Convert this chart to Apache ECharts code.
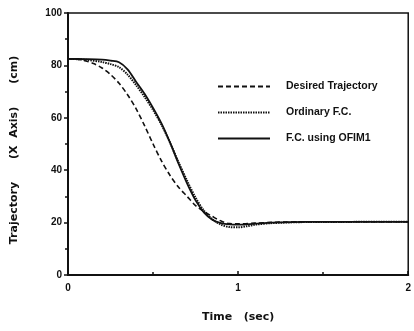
<!DOCTYPE html>
<html><head><meta charset="utf-8">
<script src="https://cdn.jsdelivr.net/npm/echarts@6/dist/echarts.min.js"></script>
<style>html,body{margin:0;padding:0;background:#fff}#c{width:414px;height:331px}</style>
</head><body><div id="c"></div>
<script>
var seriesNames = ['Desired Trajectory', 'Ordinary F.C.', 'F.C. using OFIM1'];
var desiredT = [0,0.05,0.1,0.15,0.2,0.25,0.3,0.35,0.4,0.45,0.5,0.55,0.6,0.65,0.7,0.75,0.8,0.85,0.9,0.95,1.0,1.1,1.2,1.4,2.0];
var desiredY = [82.5,82.4,81.8,80.7,79.0,76.5,73.2,68.8,63.5,57.0,50.0,43.5,38.0,33.5,30.0,26.5,24.2,22.3,20.6,19.6,19.5,19.8,20.1,20.3,20.3];
var ordinaryT = [0,0.1,0.2,0.25,0.3,0.35,0.4,0.45,0.5,0.55,0.6,0.65,0.7,0.75,0.8,0.85,0.9,0.95,1.0,1.05,1.1,1.2,1.4,2.0];
var ordinaryY = [82.5,82.2,81.3,80.5,79.3,76.5,72.5,68.0,63.0,57.3,50.5,43.0,36.0,29.5,24.5,21.2,19.2,18.3,18.2,18.6,19.2,19.8,20.2,20.3];
var ofimT = [0,0.1,0.2,0.25,0.3,0.35,0.4,0.45,0.5,0.55,0.6,0.65,0.7,0.75,0.8,0.85,0.9,0.95,1.0,1.1,1.2,1.4,2.0];
var ofimY = [82.5,82.4,82.2,81.8,81.2,78.5,73.8,69.2,63.8,57.8,50.5,42.5,35.0,28.5,23.8,21.0,19.8,19.3,19.2,19.6,20.0,20.3,20.3];
var xTicks = [0, 1, 2];
var yTicks = [0, 20, 40, 60, 80, 100];

function pairs(t, y) { return t.map(function (v, i) { return [v, y[i]]; }); }
var font = 'Liberation Sans';
var titleFont = 'DejaVu Sans';
var ink = '#111';
var chart = echarts.init(document.getElementById('c'));
chart.setOption({
  animation: false,
  backgroundColor: '#fff',
  grid: { left: 68, right: 1, top: 13, bottom: 56, show: true, borderColor: ink, borderWidth: 1.5 },
  legend: {
    orient: 'vertical', left: 212, top: 76, itemWidth: 52, itemHeight: 6, itemGap: 15,
    data: seriesNames,
    itemStyle: { opacity: 0 },
    textStyle: { fontFamily: font, fontWeight: 'bold', fontSize: 10.5, color: ink, padding: [0, 0, 0, 11] }
  },
  xAxis: {
    type: 'value', min: 0, max: 2, interval: 1,
    name: 'Time   (sec)', nameLocation: 'middle', nameGap: 37,
    nameTextStyle: { fontFamily: titleFont, fontWeight: 'bold', fontSize: 11, color: ink },
    axisLine: { lineStyle: { color: ink, width: 2 } },
    axisTick: { inside: true, length: 4, lineStyle: { color: ink, width: 1.5 } },
    minorTick: { show: true, splitNumber: 2, length: 3, lineStyle: { color: ink, width: 1.5 } },
    splitLine: { show: false },
    axisLabel: { fontFamily: font, fontWeight: 'bold', fontSize: 10, color: ink, margin: 8,
      formatter: function (v) { return xTicks.indexOf(v) >= 0 ? String(v) : ''; } }
  },
  yAxis: {
    type: 'value', min: 0, max: 100, interval: 20,
    name: 'Trajectory      (X  Axis)      (cm)', nameLocation: 'middle', nameGap: 48, nameRotate: 90,
    nameTextStyle: { fontFamily: titleFont, fontWeight: 'bold', fontSize: 11, color: ink, padding: [0, 12, 0, 0] },
    axisLine: { lineStyle: { color: ink, width: 2 } },
    axisTick: { inside: false, length: 4, lineStyle: { color: ink, width: 1.5 } },
    minorTick: { show: true, splitNumber: 2, length: 3, lineStyle: { color: ink, width: 1.5 } },
    splitLine: { show: false },
    axisLabel: { fontFamily: font, fontWeight: 'bold', fontSize: 10, color: ink, margin: 6,
      formatter: function (v) { return yTicks.indexOf(v) >= 0 ? String(v) : ''; } }
  },
  series: [
    { name: seriesNames[0], type: 'line', data: pairs(desiredT, desiredY), smooth: 0.3, symbol: 'none',
      color: ink, lineStyle: { color: ink, width: 1.6, type: [5, 3] } },
    { name: seriesNames[1], type: 'line', data: pairs(ordinaryT, ordinaryY), smooth: 0.3, symbol: 'none',
      color: ink, lineStyle: { color: ink, width: 2, type: [1.5, 1] } },
    { name: seriesNames[2], type: 'line', data: pairs(ofimT, ofimY), smooth: 0.3, symbol: 'none',
      color: ink, lineStyle: { color: ink, width: 1.8, type: 'solid' } }
  ]
});
</script></body></html>
